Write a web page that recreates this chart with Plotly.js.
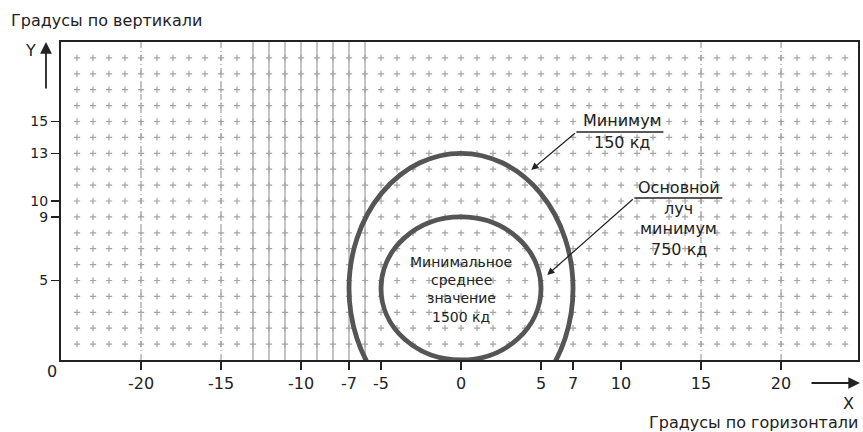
<!DOCTYPE html>
<html>
<head>
<meta charset="utf-8">
<script src="https://cdn.plot.ly/plotly-3.0.1.min.js"></script>
<style>html,body{margin:0;padding:0;background:#fff;}#chart{width:863px;height:432px;}</style>
</head>
<body>
<div id="chart"></div>
<script>
// ---- data ----
const xTickVals = [-20, -15, -10, -7, -5, 0, 5, 7, 10, 15, 20];
const xTickText = ['-20', '-15', '-10', '-7', '-5', '0', '5', '7', '10', '15', '20'];
const yTickVals = [5, 9, 10, 13, 15];
const yTickText = ['5', '9', '10', '13', '15'];
const gridCols = [-24,-23,-22,-21,-20,-19,-18,-17,-16,-15,-14,-13,-12,-11,-10,-9,-8,-7,-6,-5,-4,-3,-2,-1,0,1,2,3,4,5,6,7,8,9,10,11,12,13,14,15,16,17,18,19,20,21,22,23,24];
const gridRows = [1,2,3,4,5,6,7,8,9,10,11,12,13,14,15,16,17,18,19];
const solidLinesX = [-13, -12, -11, -10, -9, -8, -7, -6];
const dashedLinesX = [-20, -15, 15, 20];
// ellipses: outer (150 cd), inner (750 cd)
const ellipseNames = ['Минимум 150 кд', 'Основной луч минимум 750 кд'];
const ellipseXMin = [-7, -5];
const ellipseXMax = [7, 5];
const ellipseYMin = [-4, 0];
const ellipseYMax = [13, 9];
// label texts
const outerLabel = ['Минимум', '150 кд'];
const innerLabel = ['Основной', 'луч', 'минимум', '750 кд'];
const centerLabel = ['Минимальное', 'среднее', 'значение', '1500 кд'];

// ---- build ----
const gx = [], gy = [];
gridRows.forEach(r => gridCols.forEach(c => { gx.push(c); gy.push(r); }));

const FONT = 'DejaVu Sans, Liberation Sans, Arial, sans-serif';
const traces = [{
  type: 'scatter', mode: 'markers', x: gx, y: gy, hoverinfo: 'skip', showlegend: false,
  marker: {symbol: 'cross-thin', size: 4.5, line: {width: 1.2, color: '#a4a4a4'}, color: '#a4a4a4'}
}];

const shapes = [];
solidLinesX.forEach(x => shapes.push({type: 'line', xref: 'x', yref: 'y', x0: x, x1: x, y0: 0, y1: 20, layer: 'below', line: {color: '#8a8a8a', width: 1}}));
dashedLinesX.forEach(x => shapes.push({type: 'line', xref: 'x', yref: 'y', x0: x, x1: x, y0: 0, y1: 20, layer: 'below', line: {color: '#8a8a8a', width: 1, dash: '6px,3px,1px,3px'}}));
ellipseNames.forEach((n, i) => shapes.push({type: 'circle', xref: 'x', yref: 'y', x0: ellipseXMin[i], x1: ellipseXMax[i], y0: ellipseYMin[i], y1: ellipseYMax[i], line: {color: '#555555', width: 4.8}}));
// underlines of callouts
shapes.push({type: 'line', xref: 'x', yref: 'y', x0: 7.21, x1: 12.65, y0: 14.34, y1: 14.34, line: {color: '#222', width: 1.5}});
shapes.push({type: 'line', xref: 'x', yref: 'y', x0: 10.83, x1: 16.33, y0: 10.19, y1: 10.19, line: {color: '#222', width: 1.5}});

const ann = [];
const txt = (x, y, t, size) => ({xref: 'x', yref: 'y', x: x, y: y, text: t, showarrow: false, font: {family: FONT, size: size || 16, color: '#222'}, xanchor: 'center', yanchor: 'middle'});
const outerY = [15.09, 13.65];
outerLabel.forEach((t, i) => ann.push(txt(10.08, outerY[i], t)));
const innerY = [10.88, 9.56, 8.30, 6.92];
innerLabel.forEach((t, i) => ann.push(txt(13.6, innerY[i], t)));
const centerY = [6.16, 5.03, 3.90, 2.70];
centerLabel.forEach((t, i) => ann.push(txt(0, centerY[i], t, 14)));
// callout arrows
ann.push({xref: 'x', yref: 'y', axref: 'x', ayref: 'y', x: 4.39, y: 11.95, ax: 7.21, ay: 14.34, text: '', showarrow: true, arrowhead: 2, arrowsize: 1.2, arrowwidth: 1.2, arrowcolor: '#222'});
ann.push({xref: 'x', yref: 'y', axref: 'x', ayref: 'y', x: 5.39, y: 5.35, ax: 10.83, ay: 10.19, text: '', showarrow: true, arrowhead: 2, arrowsize: 1.2, arrowwidth: 1.2, arrowcolor: '#222'});
// axis titles & arrows (paper coords)
const px = p => (p - 61) / 797, py = p => (360 - p) / 318;
ann.push({xref: 'paper', yref: 'paper', x: px(9), y: py(21), xanchor: 'left', yanchor: 'middle', text: 'Градусы по вертикали', showarrow: false, font: {family: FONT, size: 16, color: '#222'}});
ann.push({xref: 'paper', yref: 'paper', x: px(860), y: py(422), xanchor: 'right', yanchor: 'middle', text: 'Градусы по горизонтали', showarrow: false, font: {family: FONT, size: 16, color: '#222'}});
ann.push({xref: 'paper', yref: 'paper', x: px(30), y: py(50), xanchor: 'center', yanchor: 'middle', text: 'Y', showarrow: false, font: {family: FONT, size: 16, color: '#222'}});
ann.push({xref: 'paper', yref: 'paper', x: px(848), y: py(403), xanchor: 'center', yanchor: 'middle', text: 'X', showarrow: false, font: {family: FONT, size: 16, color: '#222'}});
ann.push({xref: 'paper', yref: 'paper', x: px(52), y: py(371), xanchor: 'center', yanchor: 'middle', text: '0', showarrow: false, font: {family: FONT, size: 16, color: '#222'}});
ann.push({xref: 'paper', yref: 'paper', x: px(46), y: py(42), ax: 0, ay: 48, text: '', showarrow: true, arrowhead: 2, arrowsize: 1.3, arrowwidth: 1.8, arrowcolor: '#222'});
ann.push({xref: 'paper', yref: 'paper', x: px(860), y: py(383), ax: -50, ay: 0, text: '', showarrow: true, arrowhead: 2, arrowsize: 1.3, arrowwidth: 1.8, arrowcolor: '#222'});

const layout = {
  width: 863, height: 432,
  margin: {l: 61, r: 5, t: 42, b: 72, pad: 0},
  paper_bgcolor: '#fff', plot_bgcolor: '#fff',
  showlegend: false,
  font: {family: FONT, size: 16, color: '#222'},
  xaxis: {range: [-25, 24.81], tickvals: xTickVals, ticktext: xTickText, ticks: 'outside', ticklen: 8, tickwidth: 1.5, tickcolor: '#222',
          showgrid: false, zeroline: false, showline: true, linecolor: '#222', linewidth: 2, mirror: true, fixedrange: true,
          tickfont: {family: FONT, size: 16, color: '#222'}},
  yaxis: {range: [0, 20], tickvals: yTickVals, ticktext: yTickText, ticks: 'outside', ticklen: 8, tickwidth: 1.5, tickcolor: '#222',
          showgrid: false, zeroline: false, showline: true, linecolor: '#222', linewidth: 2, mirror: true, fixedrange: true,
          tickfont: {family: FONT, size: 14, color: '#222'}},
  shapes: shapes,
  annotations: ann
};
Plotly.newPlot('chart', traces, layout, {displayModeBar: false, staticPlot: true});
</script>
</body>
</html>
